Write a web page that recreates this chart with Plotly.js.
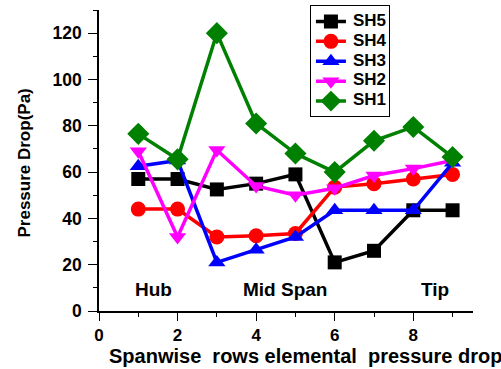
<!DOCTYPE html>
<html><head><meta charset="utf-8">
<script src="https://cdn.plot.ly/plotly-3.0.1.min.js"></script>
<style>html,body{margin:0;padding:0;background:#fff}#plot{width:501px;height:369px}</style>
</head><body><div id="plot"></div>
<script>
const xRows = [1, 2, 3, 4, 5, 6, 7, 8, 9];
const sh5 = [57, 57, 52.5, 55, 59, 21, 26, 43.5, 43.5];
const sh4 = [44, 44, 32, 32.5, 33.5, 53.5, 55, 57, 59];
const sh3 = [62.5, 65, 21, 26.5, 32, 43.5, 43.5, 43.5, 64];
const sh2 = [69, 32, 69.5, 54, 50, 53, 58.5, 61.5, 65];
const sh1 = [76.5, 65.5, 120, 81, 68, 60, 73.5, 79.5, 66.5];
const seriesNames = ['SH5', 'SH4', 'SH3', 'SH2', 'SH1'];
const seriesColors = ['#000000', '#ff0000', '#0000ff', '#ff00ff', '#008000'];
const seriesSymbols = ['square', 'circle', 'triangle-up', 'triangle-down', 'diamond'];
const seriesSizes = [14, 15, 15, 15, 17];
const seriesData = [sh5, sh4, sh3, sh2, sh1];
const xTicks = [0, 2, 4, 6, 8];
const yTicks = [0, 20, 40, 60, 80, 100, 120];
const regionLabels = ['Hub', 'Mid Span', 'Tip'];
const regionX = [1.39, 4.73, 8.55];
const regionY = [9.5, 9.5, 9.2];
const xTitle = 'Spanwise  rows elemental  pressure drop';
const yTitle = 'Pressure Drop(Pa)';

// legend entries keep blank names; the visible labels are larger annotations
const blankName = '\u00a0\u00a0\u00a0\u00a0\u00a0\u00a0\u00a0\u00a0\u00a0';
const traces = seriesData.map((ys, i) => ({
  x: xRows, y: ys, name: blankName, legendrank: i + 1,
  hovertemplate: seriesNames[i] + ': %{y}<extra></extra>',
  type: 'scatter', mode: 'lines+markers',
  line: {color: seriesColors[i], width: 3.5},
  marker: {color: seriesColors[i], symbol: seriesSymbols[i], size: seriesSizes[i]}
}));

const font = {family: 'Arial, Liberation Sans, sans-serif', color: '#000'};
const bold = s => Object.assign({size: s, weight: 'bold'}, font);

const legendTop = 0.965, legendStep = 0.0656;
const legendLabels = seriesNames.map((t, i) => ({
  x: 0.674, y: legendTop - i * legendStep, xref: 'paper', yref: 'paper', text: t,
  showarrow: false, xanchor: 'left', yanchor: 'middle', font: bold(17)
}));

const layout = {
  width: 501, height: 369,
  margin: {l: 99, r: 28, t: 10, b: 58, autoexpand: false},
  paper_bgcolor: '#fff', plot_bgcolor: '#fff',
  showlegend: true,
  legend: {x: 0.564, y: 1.015, xanchor: 'left', yanchor: 'top', bgcolor: '#fff',
    bordercolor: '#000', borderwidth: 1, font: bold(13),
    tracegroupgap: 0, itemwidth: 30},
  xaxis: {range: [0, 9.52], tickvals: xTicks, showgrid: false, zeroline: false,
    showline: true, linecolor: '#000', linewidth: 1.5, ticks: 'outside', ticklen: 8, tickcolor: '#000', tickwidth: 1.2,
    tickfont: bold(17),
    minor: {tickvals: [1, 3, 5, 7, 9], ticks: 'outside', ticklen: 4, tickcolor: '#000'}},
  yaxis: {range: [0, 130], tickvals: yTicks, showgrid: false, zeroline: false,
    showline: true, linecolor: '#000', linewidth: 1.5, ticks: 'outside', ticklen: 9, tickcolor: '#000', tickwidth: 1.2,
    tickfont: bold(17.5), ticklabelstandoff: 3,
    minor: {tickvals: [10, 30, 50, 70, 90, 110, 130], ticks: 'outside', ticklen: 4, tickcolor: '#000'}},
  annotations: regionLabels.map((t, i) => ({x: regionX[i], y: regionY[i], xref: 'x', yref: 'y', text: t,
    showarrow: false, font: bold(19)})).concat([
    {x: 0.552, y: -0.148, xref: 'paper', yref: 'paper', text: xTitle, showarrow: false,
      xanchor: 'center', yanchor: 'middle', font: bold(20)},
    {x: -0.2005, y: 0.49, xref: 'paper', yref: 'paper', text: yTitle, showarrow: false, textangle: -90,
      xanchor: 'center', yanchor: 'middle', font: bold(17)}
  ]).concat(legendLabels)
};
Plotly.newPlot('plot', traces, layout, {displayModeBar: false});
</script></body></html>
